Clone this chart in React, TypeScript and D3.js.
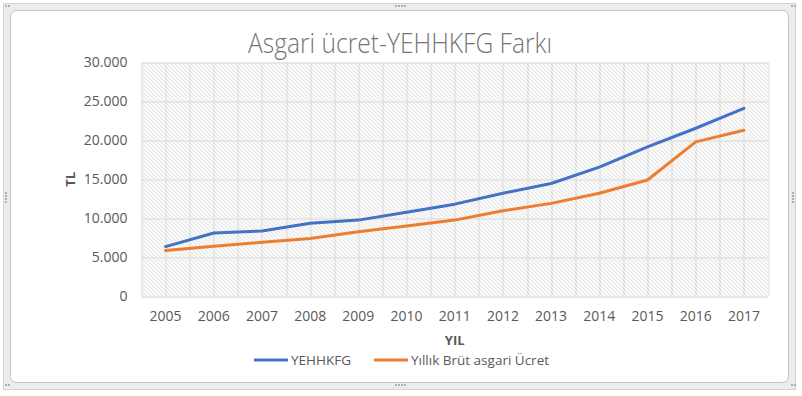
import { useEffect, useRef } from 'react';
import * as d3 from 'd3';

const years = ['2005', '2006', '2007', '2008', '2009', '2010', '2011', '2012', '2013', '2014', '2015', '2016', '2017'];
const yehhkfg = [6350, 8100, 8350, 9350, 9750, 10750, 11800, 13200, 14450, 16550, 19150, 21550, 24100];
const asgari = [5850, 6400, 6900, 7400, 8250, 9000, 9750, 10950, 11900, 13200, 14900, 19800, 21300];
const yTicks = [0, 5000, 10000, 15000, 20000, 25000, 30000];
const seriesNames = ['YEHHKFG', 'Yıllık Brüt asgari Ücret'];
const colors = ['#4472c4', '#ed7d31'];

const W = 802;
const H = 396;
const font = '"Open Sans", "Noto Sans", sans-serif';

export default function App() {
  const svgRef = useRef<SVGSVGElement>(null);

  useEffect(() => {
    document.body.style.margin = '0';
    if (!svgRef.current) return;
    const svg = d3.select(svgRef.current);
    svg.selectAll('*').remove();

    const margin = { top: 62.5, right: 34, bottom: 100, left: 141.5 };
    const iW = W - margin.left - margin.right;
    const iH = H - margin.top - margin.bottom;

    // frame
    svg.append('rect').attr('x', 3.5).attr('y', 3.5).attr('width', 792).attr('height', 386)
      .attr('fill', '#ececec').attr('stroke', '#d2d2d2');
    svg.append('rect').attr('x', 10.5).attr('y', 10.5).attr('width', 778).attr('height', 372).attr('rx', 6)
      .attr('fill', '#fff').attr('stroke', '#c4c4c4');
    const handles: [number, number, boolean][] = [
      [5, 5, false], [791, 5, false], [5, 384, false], [791, 384, false],
      [399, 5, true], [399, 384, true],
    ];
    handles.forEach(([hx, hy, horiz]) => {
      for (let i = 0; i < (horiz ? 4 : 2); i++) {
        svg.append('rect').attr('x', hx + i * 3 - (horiz ? 4 : 0)).attr('y', hy)
          .attr('width', 2).attr('height', 2).attr('fill', '#b0b0b0');
      }
    });
    [5, 792].forEach((hx) => {
      for (let i = 0; i < 4; i++) {
        svg.append('rect').attr('x', hx).attr('y', 192 + i * 3)
          .attr('width', 2).attr('height', 2).attr('fill', '#b0b0b0');
      }
    });

    const defs = svg.append('defs');
    const pat = defs.append('pattern').attr('id', 'hatch').attr('patternUnits', 'userSpaceOnUse')
      .attr('width', 4).attr('height', 4);
    pat.append('rect').attr('width', 4).attr('height', 4).attr('fill', '#fff');
    pat.append('path').attr('d', 'M-1,-1 L5,5 M-1,3 L1,5 M3,-1 L5,1')
      .attr('stroke', '#cdcdcd').attr('stroke-width', 0.9);

    const x = d3.scaleBand().domain(years).range([0, iW]).padding(0);
    const y = d3.scaleLinear().domain([0, 30000]).range([iH, 0]);
    const cx = (d: string) => x(d)! + x.bandwidth() / 2;

    const g = svg.append('g').attr('transform', `translate(${margin.left},${margin.top})`);
    g.append('rect').attr('width', iW).attr('height', iH).attr('fill', 'url(#hatch)');

    // vertical gridlines (category boundaries + centres)
    const vx: number[] = [];
    years.forEach((d) => { vx.push(x(d)!); vx.push(cx(d)); });
    vx.push(iW);
    g.append('g').selectAll('line').data(vx).join('line')
      .attr('x1', (d) => Math.round(d) + 0.5).attr('x2', (d) => Math.round(d) + 0.5)
      .attr('y1', 0).attr('y2', iH).attr('stroke', '#d9d9d9').attr('stroke-width', 1);

    g.append('g').selectAll('line').data(yTicks).join('line')
      .attr('x1', 0).attr('x2', iW)
      .attr('y1', (d) => Math.round(y(d)) + 0.5).attr('y2', (d) => Math.round(y(d)) + 0.5)
      .attr('stroke', (d) => (d === 0 ? '#cccccc' : '#d9d9d9'));

    g.append('g').selectAll('text').data(yTicks).join('text')
      .attr('x', -14).attr('y', (d) => y(d)).attr('dy', '0.35em')
      .attr('text-anchor', 'end').attr('fill', '#595959')
      .style('font', `14px ${font}`)
      .text((d) => (d === 0 ? '0' : d3.format(',')(d).replace(',', '.')));

    g.append('g').selectAll('text').data(years).join('text')
      .attr('x', cx).attr('y', iH + 25)
      .attr('text-anchor', 'middle').attr('fill', '#595959')
      .style('font', `14px ${font}`)
      .text((d) => d);

    const line = d3.line<number>().x((_, i) => cx(years[i])).y((d) => y(d));
    [yehhkfg, asgari].forEach((s, i) => {
      g.append('path').datum(s).attr('d', line).attr('fill', 'none')
        .attr('stroke', colors[i]).attr('stroke-width', 3).attr('stroke-linejoin', 'round')
        .attr('stroke-linecap', 'round');
    });

    svg.append('text').attr('x', 400).attr('y', 53).attr('text-anchor', 'middle')
      .attr('fill', '#757575').attr('textLength', 304).attr('lengthAdjust', 'spacingAndGlyphs')
      .style('font', `300 27px ${font}`).text('Asgari ücret-YEHHKFG Farkı');

    svg.append('text').attr('x', margin.left + iW / 2).attr('y', 345).attr('text-anchor', 'middle')
      .attr('fill', '#595959').style('font', `bold 13px ${font}`).text('YIL');
    svg.append('text').attr('transform', `translate(75,${margin.top + iH / 2}) rotate(-90)`)
      .attr('text-anchor', 'middle').attr('fill', '#595959')
      .style('font', `bold 13px ${font}`).text('TL');

    const legX = [254, 374];
    seriesNames.forEach((n, i) => {
      svg.append('line').attr('x1', legX[i]).attr('x2', legX[i] + 34).attr('y1', 360).attr('y2', 360)
        .attr('stroke', colors[i]).attr('stroke-width', 3);
      svg.append('text').attr('x', legX[i] + 37).attr('y', 360).attr('dy', '0.35em')
        .attr('fill', '#595959').style('font', `13.5px ${font}`).text(n);
    });
  }, []);

  return (
    <div style={{ position: 'absolute', left: 0, top: 0 }}>
      <svg ref={svgRef} width={W} height={H} viewBox={`0 0 ${W} ${H}`} style={{ display: 'block' }} />
    </div>
  );
}
